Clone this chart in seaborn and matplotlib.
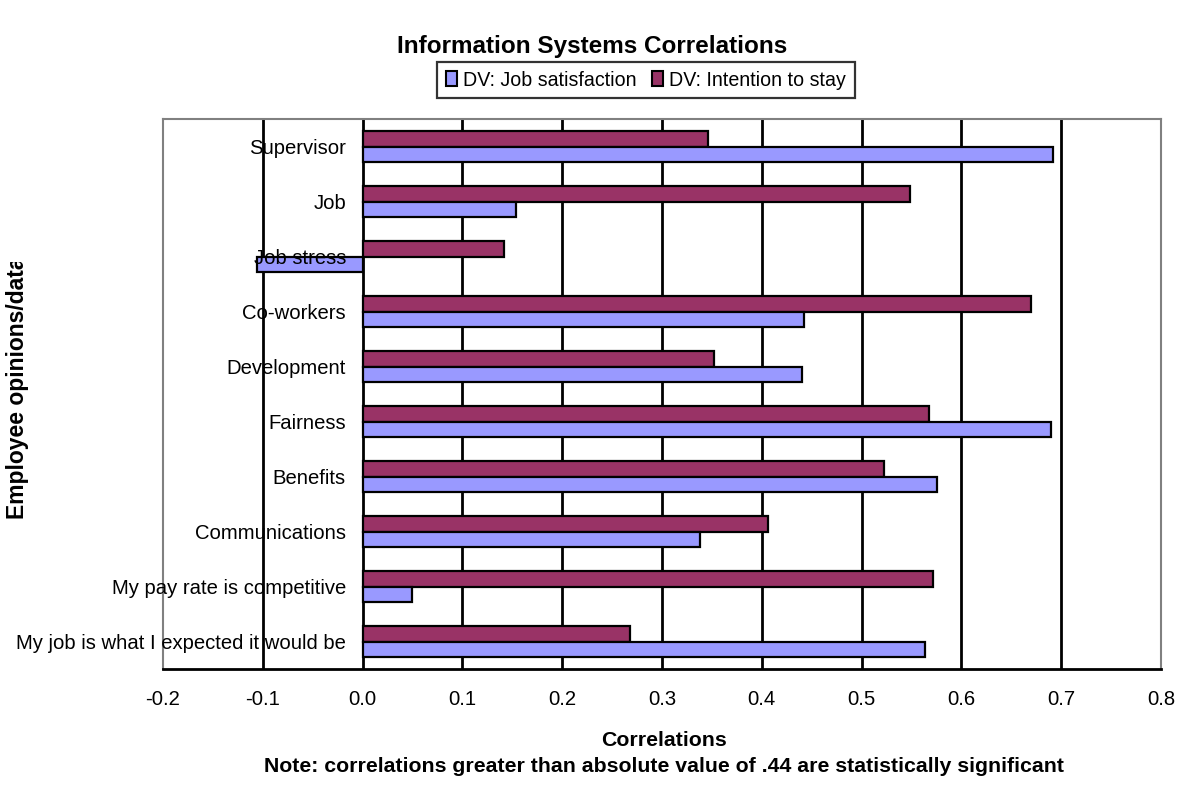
import matplotlib
matplotlib.use("Agg")
import matplotlib.pyplot as plt
from matplotlib.patches import Patch
from matplotlib.transforms import Bbox
import seaborn as sns
import pandas as pd

# Opinion items, listed top to bottom
items = [
    "Supervisor",
    "Job",
    "Job stress",
    "Co-workers",
    "Development",
    "Fairness",
    "Benefits",
    "Communications",
    "My pay rate is competitive",
    "My job is what I expected it would be",
]
job_satisfaction = [0.692, 0.154, -0.106, 0.442, 0.440, 0.690, 0.576, 0.338, 0.049, 0.564]
intention_to_stay = [0.346, 0.548, 0.142, 0.670, 0.352, 0.568, 0.522, 0.406, 0.572, 0.268]

series_names = ["DV: Job satisfaction", "DV: Intention to stay"]
series_colors = {"DV: Job satisfaction": "#9999FF", "DV: Intention to stay": "#993366"}
x_ticks = [-0.2, -0.1, 0.0, 0.1, 0.2, 0.3, 0.4, 0.5, 0.6, 0.7, 0.8]

df = pd.DataFrame({
    "item": items * 2,
    "value": job_satisfaction + intention_to_stay,
    "series": [series_names[0]] * len(items) + [series_names[1]] * len(items),
})

sns.set_theme(style="white")
plt.rcParams["font.family"] = ["Liberation Sans", "DejaVu Sans"]
plt.rcParams.update({
    "text.color": "black",
    "axes.labelcolor": "black",
    "xtick.color": "black",
    "ytick.color": "black",
    "xtick.labelcolor": "black",
    "ytick.labelcolor": "black",
})

fig = plt.figure(figsize=(11.85, 7.85), dpi=100)
ax = fig.add_axes([163 / 1185, 1 - 669 / 785, (1161 - 163) / 1185, (669 - 119) / 785])

sns.barplot(
    data=df, y="item", x="value", hue="series", orient="h",
    order=items, hue_order=[series_names[1], series_names[0]],
    palette=series_colors, width=0.58, edgecolor="black", linewidth=1.6,
    saturation=1, legend=False, ax=ax,
)

ax.set_xlim(x_ticks[0], x_ticks[-1])
ax.set_xticks(x_ticks)
ax.set_xticklabels([f"{v:.1f}" for v in x_ticks], fontsize=14.6)
ax.tick_params(axis="x", length=0, pad=15)

# Vertical gridlines behind bars, category labels in front
ax.grid(axis="x", color="black", linewidth=2)
ax.grid(axis="y", visible=False)
ax.xaxis.set_zorder(0.5)
ax.yaxis.set_zorder(3)
gl = ax.xaxis.get_gridlines()
gl[0].set_visible(False)
gl[-1].set_visible(False)

# Category labels sit just left of the zero line
ax.tick_params(axis="y", length=0, pad=-(346 - 163) * 72 / 100, labelsize=14.6)
ax.set_ylabel("")
ax.set_xlabel("")

for side in ["left", "top", "right"]:
    ax.spines[side].set_color("#808080")
    ax.spines[side].set_linewidth(1.5)
ax.spines["bottom"].set_color("black")
ax.spines["bottom"].set_linewidth(2)

fig.text(0.5, 1 - 47 / 785, "Information Systems Correlations",
         ha="center", va="center", fontsize=17.5, fontweight="bold")

handles = [Patch(facecolor=series_colors[s], edgecolor="black", linewidth=1.5) for s in series_names]
leg = fig.legend(handles, series_names, loc="center", bbox_to_anchor=(646 / 1185, 1 - 80 / 785),
                 ncol=2, frameon=True, fontsize=14.1, fancybox=False, handlelength=0.55,
                 handleheight=0.8, handletextpad=0.3, columnspacing=0.8, borderpad=0.45,
                 borderaxespad=0)
leg.get_frame().set_edgecolor("black")
leg.get_frame().set_linewidth(1.6)

fig.text(664 / 1185, 1 - 740 / 785, "Correlations",
         ha="center", va="center", fontsize=15.3, fontweight="bold")
fig.text(664 / 1185, 1 - 766 / 785,
         "Note: correlations greater than absolute value of .44 are statistically significant",
         ha="center", va="center", fontsize=15.3, fontweight="bold")

ylab = fig.text(18 / 1185, 1 - 388 / 785, "Employee opinions/data",
                rotation=90, ha="center", va="center", fontsize=16.5, fontweight="bold")
ylab.set_clip_box(Bbox.from_extents(0, 0, 60, 785 - 262))
ylab.set_clip_on(True)

fig.savefig("out.png", dpi=100)
